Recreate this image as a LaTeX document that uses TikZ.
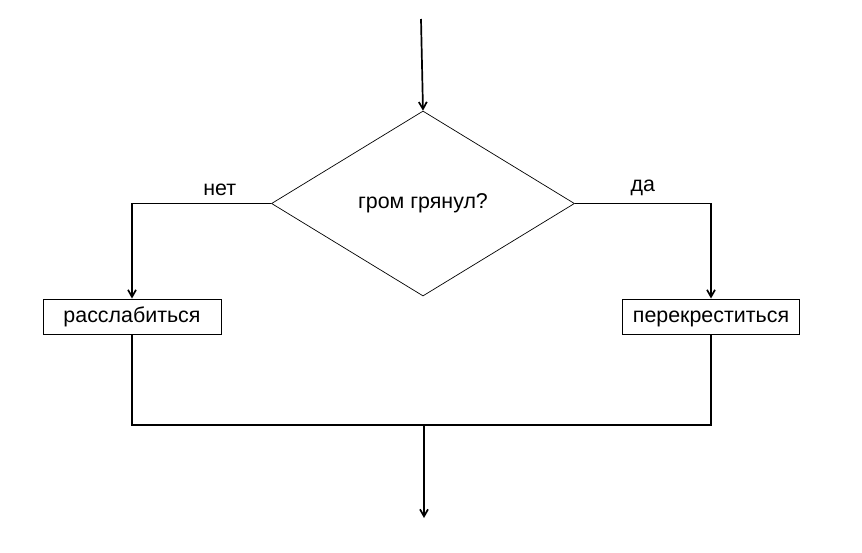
\documentclass[tikz,border=0pt]{standalone}
\usepackage{fontspec}
\setmainfont{Liberation Sans}
\usetikzlibrary{shapes.geometric,arrows.meta}

\tikzset{
	flow/.style={line width=1.7pt,-{Straight Barb[length=7pt,width=8pt]}},
	wire/.style={line width=1.7pt},
	decision/.style={diamond,draw,line width=0.7pt,inner sep=0pt,minimum width=303pt,minimum height=185pt},
	action/.style={rectangle,draw,line width=1pt,inner sep=0pt,minimum height=35pt,text height=15pt,text depth=4pt},
	lbl/.style={font=\fontsize{21.4}{25}\selectfont}
}

\begin{document}
\begin{tikzpicture}[x=1pt,y=-1pt]
	\useasboundingbox (0,0) rectangle (862,552);
	\node[decision,lbl] (grom) at (423,203.5) {\raisebox{-2pt}{гром грянул?}};
	\node[action,lbl,minimum width=178pt] (relax) at (132,316.5) {расслабиться};
	\node[action,lbl,minimum width=177pt] (cross) at (711,316.5) {перекреститься};
	\coordinate (start) at (421,19);
	\coordinate (join) at (424,425);
	\coordinate (finish) at (424,518);
			\draw[flow] (start) -- (grom.north);
			\draw[flow] (grom.west) -- node[lbl,above=4pt,pos=0.37] {нет} (relax.north |- grom.west) -- (relax.north);
			\draw[flow] (grom.east) -- node[lbl,above=4pt,pos=0.5] {да} (cross.north |- grom.east) -- (cross.north);
			\draw[wire] (relax.south) -- (relax.south |- join) -- (cross.south |- join) -- (cross.south);
			\draw[flow] (join) -- (finish);
	\end{tikzpicture}
\end{document}
